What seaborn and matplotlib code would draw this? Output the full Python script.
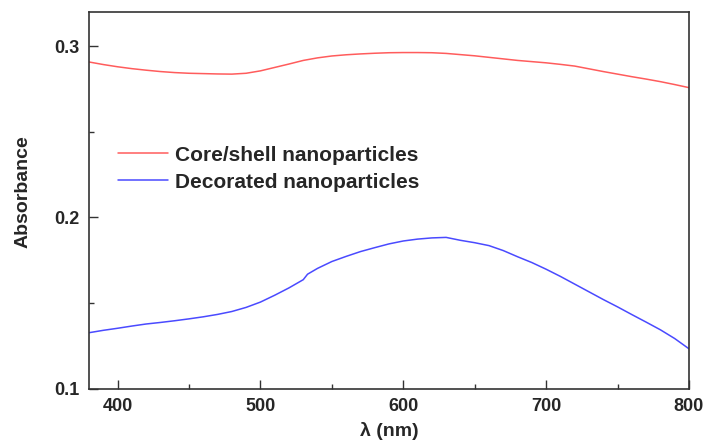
import numpy as np
import pandas as pd
import matplotlib
matplotlib.use("Agg")
import matplotlib.pyplot as plt
from matplotlib.ticker import MultipleLocator, FormatStrFormatter
import seaborn as sns

# Absorption spectra (wavelength in nm, absorbance)
wl_core = [380, 390, 400, 410, 420, 430, 440, 450, 460, 470, 480, 490, 500,
           510, 520, 530, 540, 550, 560, 570, 580, 590, 600, 610, 620, 630,
           640, 650, 660, 670, 680, 690, 700, 710, 720, 730, 740, 750, 760,
           770, 780, 790, 800]
abs_core = [0.2908, 0.2893, 0.2880, 0.2869, 0.2860, 0.2852, 0.2846, 0.2842,
            0.2840, 0.2838, 0.2837, 0.2842, 0.2856, 0.2876, 0.2896, 0.2917,
            0.2932, 0.2943, 0.2950, 0.2955, 0.2959, 0.2962, 0.2963, 0.2963,
            0.2962, 0.2958, 0.2951, 0.2944, 0.2935, 0.2926, 0.2917, 0.2910,
            0.2903, 0.2894, 0.2884, 0.2868, 0.2852, 0.2837, 0.2822, 0.2808,
            0.2793, 0.2776, 0.2758]

wl_deco = [380, 390, 400, 410, 420, 430, 440, 450, 460, 470, 480, 490, 500,
           510, 520, 530, 533, 540, 550, 560, 570, 580, 590, 600, 610, 620,
           630, 640, 650, 660, 670, 680, 690, 700, 710, 720, 730, 740, 750,
           760, 770, 780, 790, 800]
abs_deco = [0.1326, 0.1340, 0.1352, 0.1365, 0.1377, 0.1386, 0.1396, 0.1407,
            0.1419, 0.1433, 0.1450, 0.1474, 0.1505, 0.1545, 0.1588, 0.1636,
            0.1668, 0.1702, 0.1742, 0.1772, 0.1800, 0.1823, 0.1845, 0.1862,
            0.1873, 0.1880, 0.1883, 0.1866, 0.1852, 0.1835, 0.1806, 0.1770,
            0.1736, 0.1697, 0.1655, 0.1610, 0.1565, 0.1520, 0.1477, 0.1432,
            0.1388, 0.1343, 0.1292, 0.1232]

labels = ["Core/shell nanoparticles", "Decorated nanoparticles"]
colors = ["#ff5c5c", "#4a4aff"]

df = pd.concat([
    pd.DataFrame({"wl": wl_core, "A": abs_core, "sample": labels[0]}),
    pd.DataFrame({"wl": wl_deco, "A": abs_deco, "sample": labels[1]}),
])

sns.set_theme(style="ticks")
plt.rcParams["font.family"] = ["Liberation Sans", "DejaVu Sans"]

fig = plt.figure(figsize=(7.05, 4.41), dpi=100)
ax = fig.add_axes([0.1262, 0.119, 0.8511, 0.8538])

sns.lineplot(data=df, x="wl", y="A", hue="sample", palette=colors,
             linewidth=1.1, ax=ax, legend=False, sort=True)

ax.set_xlim(380, 800)
ax.set_ylim(0.1, 0.32)
ax.xaxis.set_major_locator(MultipleLocator(100))
ax.xaxis.set_minor_locator(MultipleLocator(50))
ax.yaxis.set_major_locator(MultipleLocator(0.1))
ax.yaxis.set_minor_locator(MultipleLocator(0.05))
ax.yaxis.set_major_formatter(FormatStrFormatter("%.1f"))

for side in ["top", "right", "left", "bottom"]:
    ax.spines[side].set_visible(True)
    ax.spines[side].set_linewidth(1.2)
    ax.spines[side].set_color("#333333")

ax.tick_params(which="major", direction="in", length=6.3, width=1.0,
               color="#333333", labelsize=13, top=False, right=False)
ax.tick_params(which="minor", direction="in", length=3.6, width=1.0,
               color="#333333", top=False, right=False)
ax.tick_params(axis="y", which="major", pad=6.5)
ax.tick_params(axis="x", which="major", pad=7)
for lbl in ax.get_xticklabels() + ax.get_yticklabels():
    lbl.set_fontweight("bold")

ax.set_xlabel("λ (nm)", fontsize=14, fontweight="bold", labelpad=5)
ax.set_ylabel("Absorbance", fontsize=14, fontweight="bold")
ax.yaxis.set_label_coords(-0.095, 0.523)

handles = [plt.Line2D([], [], color=c, linewidth=1.1) for c in colors]
leg = ax.legend(handles, labels, loc="upper left",
                bbox_to_anchor=(0.017, 0.695), frameon=False,
                prop={"size": 15, "weight": "bold"},
                handlelength=2.4, handletextpad=0.35, labelspacing=0.38)

fig.savefig("out.png", dpi=100)
